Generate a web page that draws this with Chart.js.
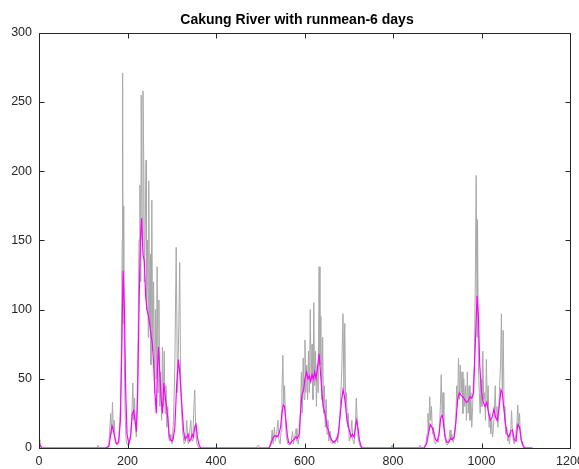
<!DOCTYPE html>
<html>
<head>
<meta charset="utf-8">
<script src="https://cdn.jsdelivr.net/npm/chart.js@4.4.1/dist/chart.umd.min.js"></script>
<style>
html,body{margin:0;padding:0;background:#fff;}
#wrap{width:579px;height:469px;}
</style>
</head>
<body>
<div id="wrap"><canvas id="c" width="579" height="469"></canvas></div>
<script>
// ---- data ----
const chartTitle = "Cakung River with runmean-6 days";
const xTicks = [0, 200, 400, 600, 800, 1000, 1200];
const yTicks = [0, 50, 100, 150, 200, 250, 300];

// raw daily flow (grey)
const rawDays = [0,2,5,60,130,133,136,150,154,158,162,164,166,168,170,172,175,178,181,184,186,188,189,190,191,192,193,195,197,200,203,207,210,212,214,216,218,220,222,224,226,228,230,231,233,235,237,238,240,242,243,245,247,248,250,252,253,255,257,259,261,263,265,267,269,271,273,275,277,279,281,283,285,287,289,291,293,295,298,301,304,307,310,313,316,318,320,322,324,326,328,331,334,336,338,340,343,346,348,350,352,354,356,358,361,365,
490,495,500,520,524,527,529,532,534,537,540,542,545,547,549,551,553,555,557,559,562,566,570,573,575,578,581,583,586,589,591,593,595,597,599,601,603,605,607,609,611,613,615,617,619,621,623,625,627,629,631,633,635,637,639,641,643,645,647,649,651,653,655,658,660,663,666,669,672,675,678,681,684,687,689,691,693,695,697,699,701,704,707,709,712,715,717,719,721,724,728,
795,798,801,858,861,864,870,874,877,879,881,883,885,887,889,891,893,896,899,902,905,907,909,911,913,915,917,920,923,926,929,931,933,936,939,942,944,946,948,950,952,954,956,958,960,962,964,966,968,970,972,974,976,978,980,982,984,986,988,990,991,993,995,997,999,1001,1003,1005,1007,1009,1011,1013,1015,1017,1019,1021,1023,1025,1027,1029,1031,1033,1035,1037,1039,1041,1043,1045,1047,1049,1051,1053,1055,1057,1059,1061,1063,1066,1068,1070,1072,1074,1077,1080,1082,1084,1086,1088,1091,1095,1115];
const rawFlow = [6,3,0,0,0,2,0,0,0,3,25,10,33,12,20,5,3,2,8,30,60,150,271,90,130,175,60,20,5,2,3,10,25,47,20,36,15,8,30,80,150,190,120,255,150,258,200,120,160,208,100,150,80,193,90,140,60,179,70,120,40,100,50,131,40,107,30,55,20,73,30,70,25,45,15,30,8,5,10,3,20,60,145,40,90,134,50,30,15,8,3,5,20,5,3,10,20,5,10,30,42,15,5,2,0,0,
0,2,0,0,2,13,3,15,5,10,20,6,3,12,40,67,30,45,20,8,3,2,5,12,3,8,14,5,3,10,30,55,25,65,35,78,40,60,35,70,40,100,50,75,35,105,45,70,30,60,40,131,60,95,35,80,25,45,15,35,10,20,5,12,4,3,5,3,8,4,12,30,55,97,40,90,30,40,15,25,5,8,20,6,3,15,36,20,8,3,0,
0,2,0,0,2,0,0,3,10,25,12,37,20,30,10,15,5,3,6,4,12,30,53,25,40,15,8,3,2,5,13,6,10,4,8,20,45,30,65,35,60,40,55,25,50,30,45,20,55,25,45,20,40,15,30,50,60,120,197,80,165,60,40,25,50,30,70,35,40,20,64,30,45,15,25,10,20,8,15,25,45,20,30,15,25,45,60,97,40,85,30,20,10,15,5,8,3,12,27,10,5,3,8,18,31,15,25,8,3,0,0];

// 6-day running mean (magenta)
const meanDays = [0,3,6,150,158,162,165,168,171,175,180,184,187,190,193,196,199,203,207,211,214,217,220,223,226,229,232,235,238,241,244,247,250,253,256,259,262,265,268,270,273,276,279,282,285,288,291,294,297,300,303,307,311,315,318,321,324,327,330,334,337,340,343,346,349,352,355,358,361,365,
520,526,530,534,538,542,546,549,552,555,558,561,564,568,572,576,580,584,588,591,594,598,601,605,608,611,614,617,620,623,626,630,633,636,639,642,645,648,651,654,657,661,665,669,673,677,681,684,687,690,693,696,699,702,705,708,712,715,718,721,724,727,731,
870,876,880,884,888,892,896,900,904,908,911,914,918,922,926,930,934,938,942,946,950,954,958,962,966,970,974,978,982,986,990,993,996,1000,1004,1008,1012,1016,1020,1024,1028,1032,1036,1040,1044,1047,1050,1054,1058,1062,1066,1070,1074,1078,1082,1086,1090,1094,1098,1115];
const meanFlow = [4,2,0,0,1,10,16,13,8,3,4,20,70,128,100,40,10,3,8,25,27,20,12,40,100,150,166,140,135,110,100,96,90,82,76,62,40,25,60,73,55,35,25,47,38,30,22,10,6,5,6,15,45,64,55,40,25,12,6,8,10,5,6,10,8,15,17,8,3,0,
0,5,8,9,8,10,15,25,31,30,20,10,4,3,5,6,8,7,10,25,38,42,50,55,50,52,48,53,50,55,50,60,68,55,42,30,27,22,15,13,9,6,4,5,6,12,25,35,42,38,30,20,16,12,8,10,8,15,20,14,6,2,0,
0,3,10,17,15,12,6,5,10,22,24,18,8,4,4,7,6,8,18,35,40,38,37,35,33,34,37,36,40,75,110,95,60,40,33,30,33,25,20,22,28,22,20,30,42,40,30,18,10,8,12,13,6,5,17,15,6,2,0,0];

// ---- build chart from the arrays ----
const toPts = (xs, ys) => xs.map((d, i) => ({x: d, y: ys[i]}));
const FONT = "'Liberation Sans', Arial, Helvetica, sans-serif";
const AXIS_COL = '#262626';

const boxPlugin = {
  id: 'boxTicks',
  afterLayout(chart) {
    // centre the title over the same point as the reference
    if (chart.titleBlock) { chart.titleBlock.left = 24; }
  },
  afterDraw(chart) {
    const ctx = chart.ctx, a = chart.chartArea;
    const xs = chart.scales.x, ys = chart.scales.y;
    const L = 5;
    ctx.save();
    ctx.strokeStyle = AXIS_COL;
    ctx.lineWidth = 1;
    ctx.beginPath();
    const l = Math.round(a.left) + 0.5, r = Math.round(a.right) + 0.5;
    const t = Math.round(a.top) + 0.5, b = Math.round(a.bottom) + 0.5;
    ctx.rect(l, t, r - l, b - t);
    xTicks.forEach(v => {
      const px = Math.round(xs.getPixelForValue(v)) + 0.5;
      ctx.moveTo(px, b); ctx.lineTo(px, b - L);
      ctx.moveTo(px, t); ctx.lineTo(px, t + L);
    });
    yTicks.forEach(v => {
      const py = Math.round(ys.getPixelForValue(v)) + 0.5;
      ctx.moveTo(l, py); ctx.lineTo(l + L, py);
      ctx.moveTo(r, py); ctx.lineTo(r - L, py);
    });
    ctx.stroke();
    ctx.restore();
  }
};

new Chart(document.getElementById('c'), {
  type: 'line',
  data: {
    datasets: [
      {label: 'runmean-6', data: toPts(meanDays, meanFlow), borderColor: '#ff00ff', borderWidth: 1.2, pointRadius: 0, tension: 0, fill: false},
      {label: 'daily', data: toPts(rawDays, rawFlow), borderColor: '#a8a8a8', borderWidth: 1, pointRadius: 0, tension: 0, fill: false}
    ]
  },
  options: {
    responsive: false,
    animation: false,
    events: [],
    layout: {padding: {left: 0, right: 9, top: 0, bottom: 0}},
    plugins: {
      legend: {display: false},
      tooltip: {enabled: false},
      title: {
        display: true, text: chartTitle, fullSize: true,
        color: '#000', font: {family: FONT, size: 14, weight: 'bold'},
        padding: {top: 12, bottom: 4}
      }
    },
    scales: {
      x: {
        type: 'linear', min: 0, max: 1200,
        afterBuildTicks: s => { s.ticks = xTicks.map(v => ({value: v})); },
        ticks: {color: AXIS_COL, font: {family: FONT, size: 12.5}, padding: 6, maxRotation: 0, autoSkip: false, callback: v => String(v)},
        grid: {display: false, drawTicks: false},
        border: {display: false},
        afterFit: s => { s.height = 21; s.paddingLeft = 0; s.paddingRight = 0; }
      },
      y: {
        type: 'linear', min: 0, max: 300,
        afterBuildTicks: s => { s.ticks = yTicks.map(v => ({value: v})); },
        ticks: {color: AXIS_COL, font: {family: FONT, size: 12.5}, padding: 7, callback: v => String(v)},
        grid: {display: false, drawTicks: false},
        border: {display: false},
        afterFit: s => { s.width = 39; s.paddingTop = 0; s.paddingBottom = 0; }
      }
    }
  },
  plugins: [boxPlugin]
});
</script>
</body>
</html>
